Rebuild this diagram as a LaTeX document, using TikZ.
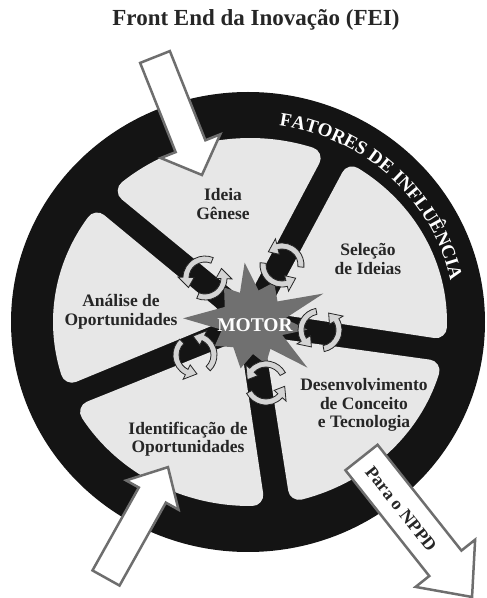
\documentclass[tikz,border=0pt]{standalone}
\usepackage{fontspec}
\setmainfont{Liberation Serif}
\usepackage{tikz}
\usetikzlibrary{calc, decorations.text, positioning}

\definecolor{anel}{HTML}{141414}
\definecolor{janela}{HTML}{E7E7E7}
\definecolor{estrela}{HTML}{707070}
\definecolor{contorno}{HTML}{6E6E6E}
\definecolor{giroclaro}{HTML}{D4D4D4}

\tikzset{
  rotulo/.style={font=\bfseries\fontsize{17.5}{18.5}\selectfont, align=center, text=black!85},
  janelaclara/.style={fill=janela, draw=janela, line width=22pt, line join=round},
  setabloco/.style={fill=white, draw=contorno, line width=2.5pt, line join=miter},
  giroseta/.style={fill=giroclaro, draw=black!85, line width=0.8pt},
  pics/giro/.style={code={
    \foreach \r in {0,180}
      \filldraw[giroseta, rotate=\r] (20:16) arc[start angle=20, end angle=130, radius=16]
        -- (130:11) -- (162:19) -- (130:27) -- (130:22)
        arc[start angle=130, end angle=20, radius=22] -- cycle;
  }},
}

\begin{document}
\begin{tikzpicture}[x=1pt, y=1pt]
  \useasboundingbox (0,0) rectangle (487,598);
  \node[font=\bfseries\fontsize{23}{23}\selectfont, text=black!85] (titulo) at (256,578) {Front End da Inovação (FEI)};

  % anel e janelas entre os raios
  \fill[anel] (248,276) ellipse[x radius=237, y radius=230];
  \begin{scope}[shift={(250,276)}]
    \foreach \a/\b in {-9/64, 64/138, 138/204, 204/278, 278/351} {
      \pgfmathsetmacro\meio{(\a+\b)/2}
      \pgfmathsetmacro\dist{23/sin((\b-\a)/2)}
      \pgfmathsetmacro\ini{\a+7.3}
      \pgfmathsetmacro\fim{\b-7.3}
      \filldraw[janelaclara] (\meio:\dist) -- (\ini:186 and 173)
        arc[start angle=\ini, end angle=\fim, x radius=186, y radius=173] -- cycle;
    }
  \end{scope}

  % texto do anel
  \path[decorate, decoration={text along path, text align=center, text color=white,
      text={|\bfseries\fontsize{19}{19}\selectfont|FATORES DE INFLUÊNCIA}}]
    (248,276) ++(90:207 and 199) arc[start angle=90, end angle=3, x radius=207, y radius=199];

  % motor
  \begin{scope}[shift={(253,276)}]
    \fill[estrela] (22:76) -- (40:32) -- (62:45) -- (80:32) -- (98:60) -- (114:32)
      -- (130:45) -- (152:32) -- (177:70) -- (194:32) -- (212:45) -- (232:32)
      -- (255:48) -- (270:32) -- (287:44) -- (303:32) -- (320:71) -- (336:32)
      -- (352:55) -- (6:32) -- cycle;
  \end{scope}
  \node[font=\bfseries\fontsize{19.5}{19.5}\selectfont, text=white] (motor) at (255,273) {MOTOR};

  % giros nos raios
  \pic[rotate=228] at (205,320) {giro};
  \pic[rotate=154] at (282,333) {giro};
  \pic[rotate=81] at (320,268) {giro};
  \pic[rotate=294] at (195,243) {giro};
  \pic[rotate=8] at (266,215) {giro};

  % etapas
  \node[rotulo] (ideia) at (223,394) {Ideia\\Gênese};
  \node[rotulo] (selecao) at (368,339) {Seleção\\de Ideias};
  \node[rotulo] (analise) at (121,286) {Análise de\\Oportunidades};
  \node[rotulo] (desenv) at (364,193) {Desenvolvimento\\de Conceito\\e Tecnologia};
  \node[rotulo] (ident) at (188,159) {Identificação de\\Oportunidades};

  % setas de entrada e saida
  \begin{scope}[shift={(155,541)}, rotate=-68.3]
    \draw[setabloco] (0,-16) -- (96,-16) -- (96,-32) -- (127,0) -- (96,32) -- (96,16) -- (0,16) -- cycle;
  \end{scope}
  \begin{scope}[shift={(106,20)}, rotate=60.8]
    \draw[setabloco] (0,-15.5) -- (95,-15.5) -- (95,-30) -- (127,0) -- (95,30) -- (95,15.5) -- (0,15.5) -- cycle;
  \end{scope}
  \begin{scope}[shift={(361.5,140.5)}, rotate=-51.6]
    \draw[setabloco] (0,-20.5) -- (135,-20.5) -- (135,-38) -- (178,0) -- (135,38) -- (135,20.5) -- (0,20.5) -- cycle;
  \end{scope}
  \node[font=\bfseries\fontsize{18}{18}\selectfont, text=black!85, rotate=-51.6] (nppd) at (401,89) {Para o NPPD};
\end{tikzpicture}
\end{document}
